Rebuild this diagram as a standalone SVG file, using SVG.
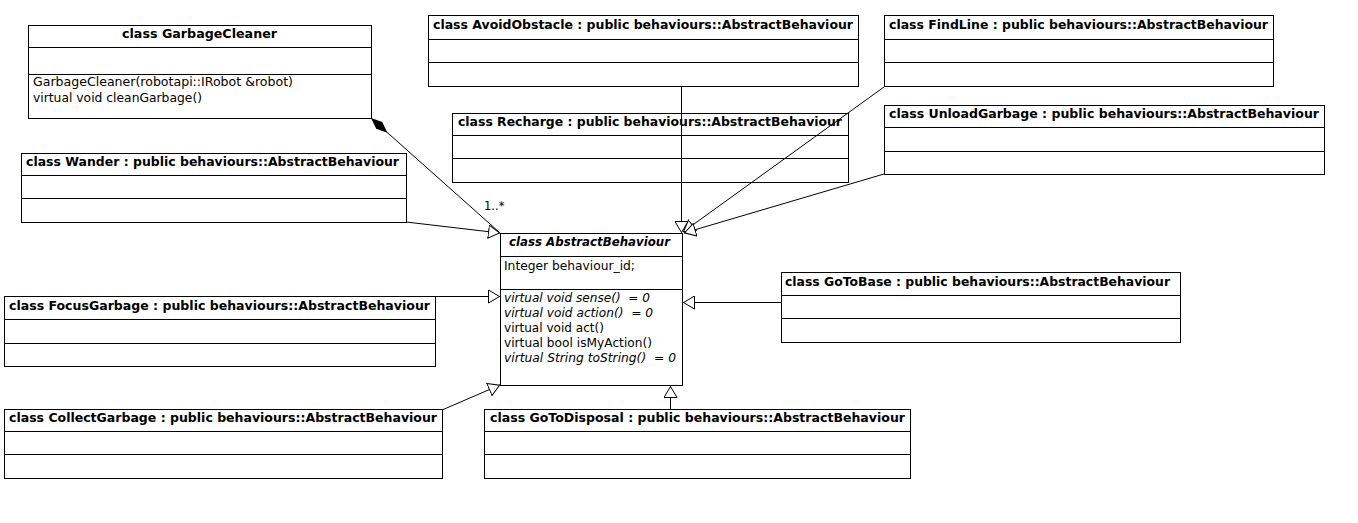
<svg xmlns="http://www.w3.org/2000/svg" width="1358" height="523" viewBox="0 0 1358 523">
<style>
.b{fill:#fff;stroke:#000;stroke-width:1}
.s{stroke:#000;stroke-width:1}
.t{font-family:"DejaVu Sans","Verdana",sans-serif;font-size:12px;font-weight:bold;fill:#000}
.m{font-family:"DejaVu Sans","Verdana",sans-serif;font-size:11.5px;fill:#000}
.i{font-style:italic}
.c{fill:none;stroke:#000;stroke-width:1}
</style>
<defs>
<marker id="gen" viewBox="0 0 12 14" refX="12" refY="7" markerWidth="12" markerHeight="14" markerUnits="userSpaceOnUse" orient="auto">
<path d="M0.5,0.5 L11.5,7 L0.5,13.5 Z" fill="#fff" stroke="#000" stroke-width="1"/>
</marker>
<marker id="comp" viewBox="0 0 22 10" refX="0" refY="5" markerWidth="22" markerHeight="10" markerUnits="userSpaceOnUse" orient="auto">
<path d="M0,5 L11,0.5 L22,5 L11,9.5 Z" fill="#000"/>
</marker>
</defs>
<rect width="1358" height="523" fill="#fff"/>

<g id="GarbageCleaner">
<rect class="b" x="28.5" y="25.5" width="343" height="93"/>
<line class="s" x1="28.5" y1="47.5" x2="371.5" y2="47.5"/>
<line class="s" x1="28.5" y1="74.5" x2="371.5" y2="74.5"/>
<text class="t" x="122" y="38" textLength="155" lengthAdjust="spacingAndGlyphs">class GarbageCleaner</text>
<text class="m" x="33" y="86" textLength="260" lengthAdjust="spacingAndGlyphs">GarbageCleaner(robotapi::IRobot &amp;robot)</text>
<text class="m" x="33" y="102" textLength="169" lengthAdjust="spacingAndGlyphs">virtual void cleanGarbage()</text>
</g>

<g id="AvoidObstacle">
<rect class="b" x="428.5" y="15.5" width="430" height="71"/>
<line class="s" x1="428.5" y1="39.5" x2="858.5" y2="39.5"/>
<line class="s" x1="428.5" y1="62.5" x2="858.5" y2="62.5"/>
<text class="t" x="433" y="29" textLength="420" lengthAdjust="spacingAndGlyphs">class AvoidObstacle : public behaviours::AbstractBehaviour</text>
</g>

<g id="FindLine">
<rect class="b" x="884.5" y="15.5" width="389" height="71"/>
<line class="s" x1="884.5" y1="39.5" x2="1273.5" y2="39.5"/>
<line class="s" x1="884.5" y1="62.5" x2="1273.5" y2="62.5"/>
<text class="t" x="889" y="29" textLength="379" lengthAdjust="spacingAndGlyphs">class FindLine : public behaviours::AbstractBehaviour</text>
</g>

<g id="Recharge">
<rect class="b" x="452.5" y="113.5" width="396" height="69"/>
<line class="s" x1="452.5" y1="135.5" x2="848.5" y2="135.5"/>
<line class="s" x1="452.5" y1="158.5" x2="848.5" y2="158.5"/>
<text class="t" x="458" y="126" textLength="384" lengthAdjust="spacingAndGlyphs">class Recharge : public behaviours::AbstractBehaviour</text>
</g>

<g id="UnloadGarbage">
<rect class="b" x="884.5" y="105.5" width="440" height="69"/>
<line class="s" x1="884.5" y1="127.5" x2="1324.5" y2="127.5"/>
<line class="s" x1="884.5" y1="151.5" x2="1324.5" y2="151.5"/>
<text class="t" x="889" y="118" textLength="430" lengthAdjust="spacingAndGlyphs">class UnloadGarbage : public behaviours::AbstractBehaviour</text>
</g>

<g id="Wander">
<rect class="b" x="21.5" y="153.5" width="385" height="69"/>
<line class="s" x1="21.5" y1="175.5" x2="406.5" y2="175.5"/>
<line class="s" x1="21.5" y1="198.5" x2="406.5" y2="198.5"/>
<text class="t" x="26" y="166" textLength="373" lengthAdjust="spacingAndGlyphs">class Wander : public behaviours::AbstractBehaviour</text>
</g>

<g id="AbstractBehaviour">
<rect class="b" x="500.5" y="233.5" width="182" height="152"/>
<line class="s" x1="500.5" y1="256.5" x2="682.5" y2="256.5"/>
<line class="s" x1="500.5" y1="289.5" x2="682.5" y2="289.5"/>
<text class="t i" x="509" y="246" textLength="161" lengthAdjust="spacingAndGlyphs">class AbstractBehaviour</text>
<text class="m" x="504" y="270" textLength="131" lengthAdjust="spacingAndGlyphs">Integer behaviour_id;</text>
<text class="m i" x="504" y="302" textLength="146" lengthAdjust="spacingAndGlyphs" xml:space="preserve">virtual void sense()  = 0</text>
<text class="m i" x="504" y="317" textLength="149" lengthAdjust="spacingAndGlyphs" xml:space="preserve">virtual void action()  = 0</text>
<text class="m" x="504" y="332" textLength="100" lengthAdjust="spacingAndGlyphs">virtual void act()</text>
<text class="m" x="504" y="347" textLength="148" lengthAdjust="spacingAndGlyphs">virtual bool isMyAction()</text>
<text class="m i" x="504" y="362" textLength="172" lengthAdjust="spacingAndGlyphs" xml:space="preserve">virtual String toString()  = 0</text>
</g>

<g id="FocusGarbage">
<rect class="b" x="4.5" y="296.5" width="431" height="70"/>
<line class="s" x1="4.5" y1="319.5" x2="435.5" y2="319.5"/>
<line class="s" x1="4.5" y1="343.5" x2="435.5" y2="343.5"/>
<text class="t" x="9" y="310" textLength="421" lengthAdjust="spacingAndGlyphs">class FocusGarbage : public behaviours::AbstractBehaviour</text>
</g>

<g id="GoToBase">
<rect class="b" x="781.5" y="272.5" width="399" height="70"/>
<line class="s" x1="781.5" y1="295.5" x2="1180.5" y2="295.5"/>
<line class="s" x1="781.5" y1="318.5" x2="1180.5" y2="318.5"/>
<text class="t" x="785" y="286" textLength="385" lengthAdjust="spacingAndGlyphs">class GoToBase : public behaviours::AbstractBehaviour</text>
</g>

<g id="CollectGarbage">
<rect class="b" x="4.5" y="409.5" width="438" height="69"/>
<line class="s" x1="4.5" y1="431.5" x2="442.5" y2="431.5"/>
<line class="s" x1="4.5" y1="454.5" x2="442.5" y2="454.5"/>
<text class="t" x="9" y="422" textLength="428" lengthAdjust="spacingAndGlyphs">class CollectGarbage : public behaviours::AbstractBehaviour</text>
</g>

<g id="GoToDisposal">
<rect class="b" x="484.5" y="409.5" width="426" height="69"/>
<line class="s" x1="484.5" y1="431.5" x2="910.5" y2="431.5"/>
<line class="s" x1="484.5" y1="454.5" x2="910.5" y2="454.5"/>
<text class="t" x="490" y="422" textLength="415" lengthAdjust="spacingAndGlyphs">class GoToDisposal : public behaviours::AbstractBehaviour</text>
</g>

<g id="connectors">
<line class="c" x1="681.5" y1="87" x2="681.5" y2="233" marker-end="url(#gen)"/>
<line class="c" x1="884" y1="87" x2="683" y2="232" marker-end="url(#gen)"/>
<line class="c" x1="884" y1="174" x2="684" y2="233" marker-end="url(#gen)"/>
<line class="c" x1="406" y1="222" x2="500" y2="233" marker-end="url(#gen)"/>
<line class="c" x1="371" y1="118" x2="499" y2="232" marker-start="url(#comp)"/>
<line class="c" x1="435" y1="296.5" x2="500" y2="296.5" marker-end="url(#gen)"/>
<line class="c" x1="781" y1="302.5" x2="683" y2="302.5" marker-end="url(#gen)"/>
<line class="c" x1="442" y1="410" x2="500" y2="385" marker-end="url(#gen)"/>
<line class="c" x1="670.5" y1="409" x2="670.5" y2="386" marker-end="url(#gen)"/>
<text class="m" x="484" y="210">1..*</text>
</g>
</svg>
